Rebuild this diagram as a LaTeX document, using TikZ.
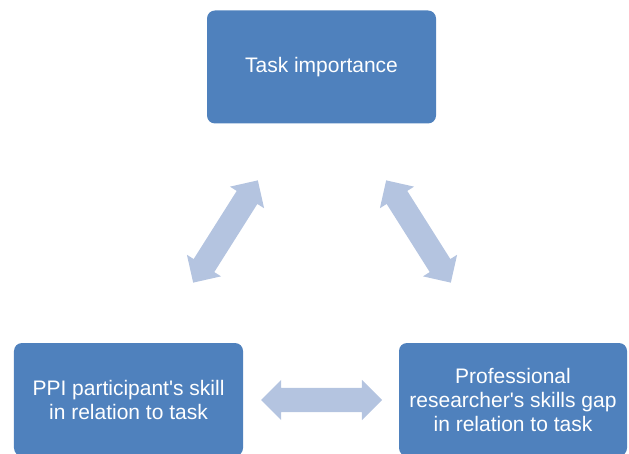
\documentclass[tikz,border=0pt]{standalone}
\usepackage{fontspec}
\setmainfont{Liberation Sans}
\usetikzlibrary{shapes.arrows}
\definecolor{boxblue}{RGB}{79,129,189}
\definecolor{arrowblue}{RGB}{180,196,224}
\tikzset{
  box/.style={fill=boxblue, draw=none, rounded corners=8bp, text=white,
    minimum width=229bp, minimum height=113bp, inner sep=0pt, align=center,
    font=\fontsize{21bp}{24bp}\selectfont},
  dblarrow/.style={double arrow, fill=arrowblue, draw=none, minimum width=40bp,
    double arrow head extend=8bp, double arrow tip angle=90, minimum height=121bp,
    inner xsep=0pt, inner ysep=12bp, text height=0pt, text depth=0pt}
}
\begin{document}
\begin{tikzpicture}[x=1bp,y=-1bp]
\useasboundingbox (0,0) rectangle (629,454);
\clip (0,0) rectangle (629,454);
\node[box] (top) at (321.5,67) {Task importance};
\node[box] (bl) at (128.5,399.5) {PPI participant\textquotesingle s skill\\in relation to task};
\node[box, minimum width=228bp] (br) at (513,399.5) {Professional\\researcher\textquotesingle s skills gap\\in relation to task};
\node[dblarrow, rotate=57.7] (al) at (225.5,231.5) {};
\node[dblarrow, rotate=-57.7] (ar) at (418.5,231.5) {};
\node[dblarrow] (ah) at (321.5,400) {};
\end{tikzpicture}
\end{document}
